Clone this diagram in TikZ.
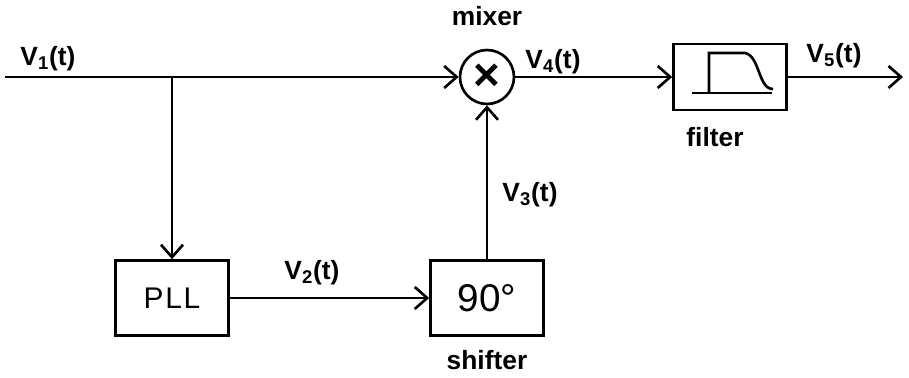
\documentclass[tikz,border=0pt]{standalone}
\usepackage{fontspec}
\setmainfont{Liberation Sans}
\usepackage{tikz}
\usetikzlibrary{arrows.meta}

\begin{document}
\begin{tikzpicture}[x=0.02cm, y=-0.02cm, line width=1.5pt,
    sig/.style={-{Straight Barb[length=2.5mm, width=4.4mm, line width=1.5pt]}},
    blk/.style={draw, rectangle, minimum width=2.26cm, minimum height=1.5cm, inner sep=0pt},
    lbl/.style={font=\fontsize{15}{17}\selectfont\bfseries, inner sep=0pt}]
  \useasboundingbox (0,0) rectangle (909,378);

  % Blocks
  \node[draw, circle, minimum size=1.08cm, inner sep=0pt] (mix) at (487,77)
    {\fontsize{26}{26}\selectfont\bfseries ×};
  \node[blk] (pll) at (172,298) {\fontsize{17}{19}\selectfont P\kern1pt L\kern1pt L};
  \node[blk] (sh) at (487,298) {\fontsize{22}{24}\selectfont 90°};
  \node[blk, minimum height=1.32cm] (flt) at (730,77) {};
  \coordinate (in) at (5,77);
  \coordinate (br) at (172,77);
  \coordinate (out) at (903,77);

  % Filter response
  \draw (692,93) -- (772,93);
  \draw (709,93) -- (709,53) -- (745,53)
    .. controls (760,56) and (758,89) .. (773,89);

  % Connections
  \draw[sig] (in) -- (mix.west);
  \draw[sig] (br) -- (pll.north);
  \draw[sig] (pll.east) -- (sh.west);
  \draw[sig] (sh.north) -- (mix.south);
  \draw[sig] (mix.east) -- (flt.west);
  \draw[sig] (flt.east) -- (out);

  % Labels
  \node[lbl] (v1) at (48,59) {V\textsubscript{1}(t)};
  \node[lbl] (v2) at (312,273) {V\textsubscript{2}(t)};
  \node[lbl] (v3) at (530,195) {V\textsubscript{3}(t)};
  \node[lbl] (v4) at (553,62) {V\textsubscript{4}(t)};
  \node[lbl] (v5) at (834,56) {V\textsubscript{5}(t)};
  \node[lbl] (mixl) at (487,16) {mixer};
  \node[lbl] (fltl) at (715,137) {filter};
  \node[lbl] (shl) at (487,360) {shifter};
\end{tikzpicture}
\end{document}
